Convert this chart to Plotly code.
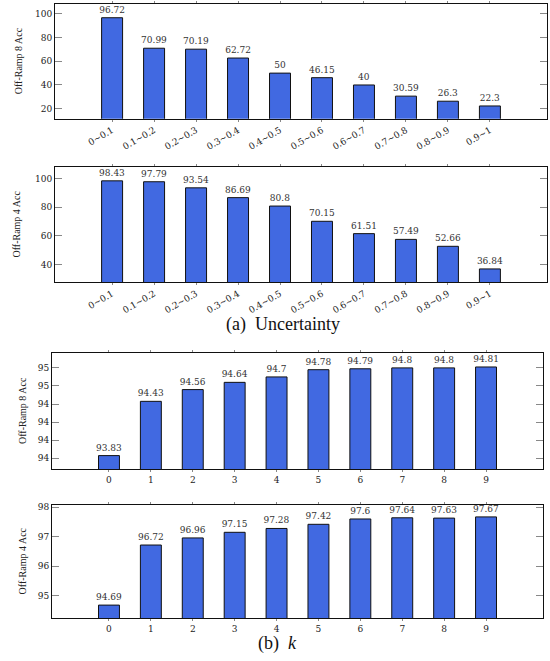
import plotly.graph_objects as go

unc_categories = ["0∼0.1", "0.1∼0.2", "0.2∼0.3", "0.3∼0.4", "0.4∼0.5",
                  "0.5∼0.6", "0.6∼0.7", "0.7∼0.8", "0.8∼0.9", "0.9∼1"]
unc_ramp8 = [96.72, 70.99, 70.19, 62.72, 50, 46.15, 40, 30.59, 26.3, 22.3]
unc_ramp4 = [98.43, 97.79, 93.54, 86.69, 80.8, 70.15, 61.51, 57.49, 52.66, 36.84]

k_categories = ["0", "1", "2", "3", "4", "5", "6", "7", "8", "9"]
k_ramp8 = [93.83, 94.43, 94.56, 94.64, 94.7, 94.78, 94.79, 94.8, 94.8, 94.81]
k_ramp4 = [94.69, 96.72, 96.96, 97.15, 97.28, 97.42, 97.6, 97.64, 97.63, 97.67]

p1_ticks = [20, 40, 60, 80, 100]
p2_ticks = [40, 60, 80, 100]
p3_ticks = [93.8, 94.0, 94.2, 94.4, 94.6, 94.8]
p3_ticktext = ["94", "94", "94", "94", "95", "95"]
p4_ticks = [95, 96, 97, 98]

y_titles = ["Off-Ramp 8 Acc", "Off-Ramp 4 Acc", "Off-Ramp 8 Acc", "Off-Ramp 4 Acc"]
captions = ["(a)  Uncertainty", "(b)  <i>k</i>"]

W, H = 550, 661
BAR = "#4169E1"
TICKFONT = dict(family="DejaVu Serif", size=9, color="#222")
LABFONT = dict(family="DejaVu Serif", size=9, color="#333")

fig = go.Figure()

panels = [
    # (cats, vals, xdom px, ytop px, ybot px, yrange, tickvals, ticktext, tickangle, title x px)
    (unc_categories, unc_ramp8, (55, 547), 2, 117, [11.6, 108.3], p1_ticks, None, -30, 18),
    (unc_categories, unc_ramp4, (55, 547), 165.5, 281, [27.6, 108.1], p2_ticks, None, -30, 17),
    (k_categories, k_ramp8, (52, 543), 352.3, 468.3, [93.683, 94.962], p3_ticks, p3_ticktext, 0, 22),
    (k_categories, k_ramp4, (52, 543), 504.3, 618, [94.25, 98.08], p4_ticks, None, 0, 22),
]

for i, (cats, vals, xd, yt, yb, yr, tv, tt, ang, tx) in enumerate(panels):
    n = "" if i == 0 else str(i + 1)
    fig.add_trace(go.Bar(
        x=cats, y=vals, xaxis="x" + n, yaxis="y" + n,
        marker=dict(color=BAR, line=dict(color="#111", width=1)),
        width=0.5,
        text=[f"{v:g}" for v in vals], textposition="outside",
        constraintext="none",
        textfont=LABFONT, cliponaxis=False, showlegend=False,
    ))
    xa = dict(
        domain=[xd[0] / W, xd[1] / W], anchor="y" + n,
        type="category", range=[-1.36, 10.36],
        showline=True, linecolor="#111", linewidth=1, mirror="ticks",
        ticks="outside", ticklen=2, tickcolor="#888",
        tickangle=ang, tickfont=TICKFONT, showgrid=False, zeroline=False,
    )
    ya = dict(
        domain=[1 - yb / H, 1 - yt / H], anchor="x" + n,
        range=yr, tickvals=tv,
        showline=True, linecolor="#111", linewidth=1, mirror="ticks",
        ticks="inside", ticklen=7, tickcolor="#888",
        tickfont=TICKFONT, showgrid=False, zeroline=False,
    )
    if tt is not None:
        ya["ticktext"] = tt
    fig.layout["xaxis" + n] = xa
    fig.layout["yaxis" + n] = ya
    fig.add_annotation(
        text=y_titles[i], textangle=-90, xref="paper", yref="paper",
        x=tx / W, y=1 - (yt + yb) / 2 / H, xanchor="center", yanchor="middle",
        showarrow=False, font=dict(family="Liberation Serif", size=10, color="#222"),
    )

fig.add_annotation(text=captions[0], xref="paper", yref="paper", x=283 / W, y=1 - 323 / H,
                   xanchor="center", yanchor="middle",
                   showarrow=False, font=dict(family="Liberation Serif", size=18, color="#111"))
fig.add_annotation(text=captions[1], xref="paper", yref="paper", x=277 / W, y=1 - 643 / H,
                   xanchor="center", yanchor="middle",
                   showarrow=False, font=dict(family="Liberation Serif", size=18, color="#111"))

fig.update_layout(
    width=W, height=H, margin=dict(l=0, r=0, t=0, b=0),
    paper_bgcolor="white", plot_bgcolor="white", bargap=0.5,
)

fig.write_html("out.html", config={"displayModeBar": False},
               post_script="document.body.style.margin='0px';")
